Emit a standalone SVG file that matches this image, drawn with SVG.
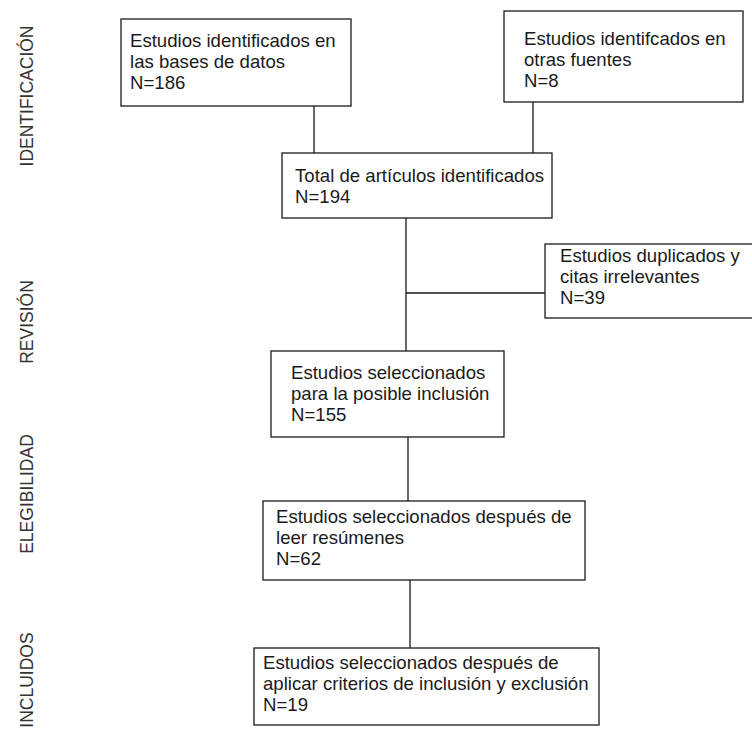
<svg xmlns="http://www.w3.org/2000/svg" width="752" height="731" viewBox="0 0 752 731">
<style>
.box{fill:#fff;stroke:#1a1a1a;stroke-width:1.3}
.t{font-family:"Liberation Sans",Arial,sans-serif;font-size:18.6px;fill:#1a1a1a}
.lab{font-family:"Liberation Sans",Arial,sans-serif;font-size:17.5px;fill:#333;text-anchor:middle}
.c{stroke:#1a1a1a;stroke-width:1.3;fill:none}
</style>
<rect width="752" height="731" fill="#fff"/>
<g id="stage-labels">
<text class="lab" transform="translate(33,96) rotate(-90)">IDENTIFICACIÓN</text>
<text class="lab" transform="translate(33,322) rotate(-90)">REVISIÓN</text>
<text class="lab" transform="translate(33,494) rotate(-90)">ELEGIBILIDAD</text>
<text class="lab" transform="translate(33,680) rotate(-90)">INCLUIDOS</text>
</g>
<g id="connectors">
<line class="c" x1="314" y1="106" x2="314" y2="153"/>
<line class="c" x1="533" y1="102" x2="533" y2="153"/>
<line class="c" x1="406" y1="218" x2="406" y2="351"/>
<line class="c" x1="406" y1="293" x2="545" y2="293"/>
<line class="c" x1="408" y1="437" x2="408" y2="501"/>
<line class="c" x1="410" y1="580" x2="410" y2="648"/>
</g>
<g id="n-bases">
<rect class="box" x="121" y="19" width="230" height="87"/>
<text class="t" x="130" y="47">Estudios identificados en</text>
<text class="t" x="130" y="68">las bases de datos</text>
<text class="t" x="130" y="89">N=186</text>
</g>
<g id="n-otras">
<rect class="box" x="504" y="11" width="239" height="91"/>
<text class="t" x="524" y="45">Estudios identifcados en</text>
<text class="t" x="524" y="66">otras fuentes</text>
<text class="t" x="524" y="87">N=8</text>
</g>
<g id="n-total">
<rect class="box" x="282" y="153" width="270" height="65"/>
<text class="t" x="295" y="182">Total de artículos identificados</text>
<text class="t" x="295" y="203">N=194</text>
</g>
<g id="n-duplicados">
<rect class="box" x="545" y="244" width="220" height="74"/>
<text class="t" x="560" y="262">Estudios duplicados y</text>
<text class="t" x="560" y="283">citas irrelevantes</text>
<text class="t" x="560" y="304">N=39</text>
</g>
<g id="n-seleccionados">
<rect class="box" x="271" y="351" width="233" height="86"/>
<text class="t" x="291" y="379">Estudios seleccionados</text>
<text class="t" x="291" y="400">para la posible inclusión</text>
<text class="t" x="291" y="421">N=155</text>
</g>
<g id="n-resumenes">
<rect class="box" x="263" y="501" width="322" height="79"/>
<text class="t" x="276" y="523">Estudios seleccionados después de</text>
<text class="t" x="276" y="544">leer resúmenes</text>
<text class="t" x="276" y="565">N=62</text>
</g>
<g id="n-incluidos">
<rect class="box" x="254" y="648" width="345" height="77"/>
<text class="t" x="263" y="669">Estudios seleccionados después de</text>
<text class="t" x="263" y="690">aplicar criterios de inclusión y exclusión</text>
<text class="t" x="263" y="711">N=19</text>
</g>
</svg>
